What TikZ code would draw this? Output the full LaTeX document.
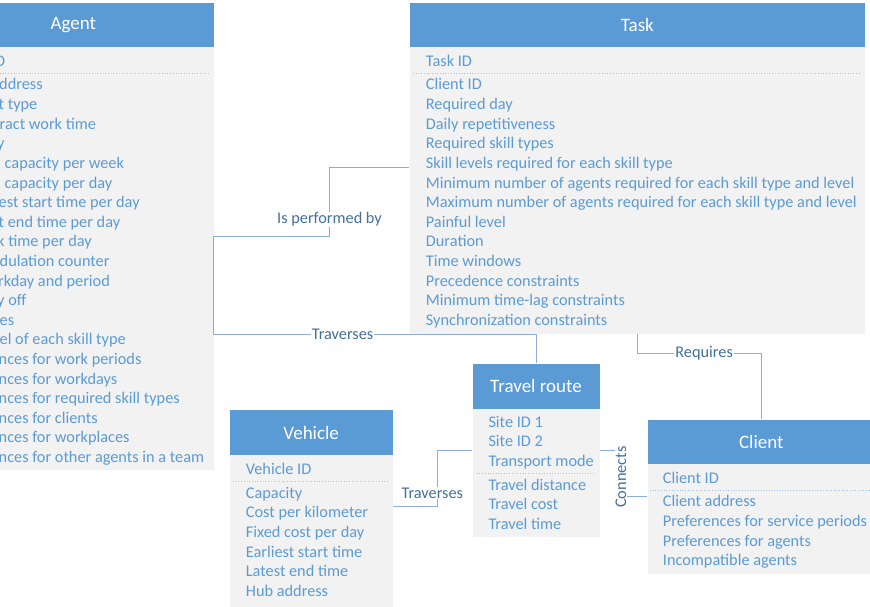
\documentclass[tikz,border=0pt]{standalone}
\usepackage{fontspec}
\setmainfont{Carlito}
\usetikzlibrary{positioning}

\definecolor{headblue}{HTML}{5B9BD5}
\definecolor{bodygrey}{HTML}{F2F2F2}
\definecolor{rowblue}{HTML}{5B9BD5}
\definecolor{linkblue}{HTML}{8FAADC}
\definecolor{relblue}{HTML}{44709D}

\tikzset{
  head/.style={fill=headblue, text=white, font=\fontsize{19}{22}\selectfont,
    anchor=north west, inner sep=0pt},
  body/.style={fill=bodygrey, anchor=north west, inner sep=0pt},
  row/.style={text=rowblue, font=\fontsize{16.3}{19.6}\selectfont, anchor=base west, inner sep=0pt},
  keyline/.style={headblue!60, dotted, line width=0.7pt},
  link/.style={linkblue, line width=0.9pt},
  rel/.style={fill=white, text=relblue, font=\fontsize{16.3}{19.6}\selectfont, inner sep=1pt},
}

\begin{document}
\begin{tikzpicture}[x=1pt, y=-1pt]
  \useasboundingbox (0,0) rectangle (870,607);
  \clip (0,0) rectangle (870,607);

  % Agent
  \node[head, minimum width=280.3, minimum height=44.3] (agenth) at (-67,2.5) {Agent};
  \node[body, minimum width=280.3, minimum height=423.2] (agentb) at (-67,46.8) {};
  \node[row] (a0) at (-5,66.5) {D};
  \draw[keyline] (0,73) -- (210,73);
  \node[row] (a1) at (-1,90) {ddress};
  \node[row] (a2) at (-1.5,109.6) {t type};
  \node[row] (a3) at (-0.5,129.2) {ract work time};
  \node[row] (a4) at (-3,148.8) {y};
  \node[row] (a5) at (4.5,168.4) {capacity per week};
  \node[row] (a6) at (4.5,188) {capacity per day};
  \node[row] (a7) at (-1.5,207.6) {est start time per day};
  \node[row] (a8) at (-1.5,227.2) {t end time per day};
  \node[row] (a9) at (-3,246.8) {k time per day};
  \node[row] (a10) at (-0.5,266.4) {dulation counter};
  \node[row] (a11) at (-2,286) {rkday and period};
  \node[row] (a12) at (-3,305.6) {y off};
  \node[row] (a13) at (-0.5,325.2) {es};
  \node[row] (a14) at (-0.5,344.8) {el of each skill type};
  \node[row] (a15) at (-1.5,364.4) {nces for work periods};
  \node[row] (a16) at (-1.5,384) {nces for workdays};
  \node[row] (a17) at (-1.5,403.6) {nces for required skill types};
  \node[row] (a18) at (-1.5,423.2) {nces for clients};
  \node[row] (a19) at (-1.5,442.8) {nces for workplaces};
  \node[row] (a20) at (-1.5,462.4) {nces for other agents in a team};

  % Task
  \node[head, minimum width=455.7, minimum height=44.3] (taskh) at (409.3,2.5) {Task};
  \node[body, minimum width=455.7, minimum height=286.5] (taskb) at (409.3,46.8) {};
  \node[row] (t0) at (425.7,66.5) {Task ID};
  \draw[keyline] (413,73) -- (861,73);
  \node[row] (t1) at (425.7,90) {Client ID};
  \node[row] (t2) at (425.7,109.6) {Required day};
  \node[row] (t3) at (425.7,129.2) {Daily repetitiveness};
  \node[row] (t4) at (425.7,148.8) {Required skill types};
  \node[row] (t5) at (425.7,168.4) {Skill levels required for each skill type};
  \node[row] (t6) at (425.7,188) {Minimum number of agents required for each skill type and level};
  \node[row] (t7) at (425.7,207.6) {Maximum number of agents required for each skill type and level};
  \node[row] (t8) at (425.7,227.2) {Painful level};
  \node[row] (t9) at (425.7,246.8) {Duration};
  \node[row] (t10) at (425.7,266.4) {Time windows};
  \node[row] (t11) at (425.7,286) {Precedence constraints};
  \node[row] (t12) at (425.7,305.6) {Minimum time-lag constraints};
  \node[row] (t13) at (425.7,325.2) {Synchronization constraints};

  % Travel route
  \node[head, minimum width=127, minimum height=45] (routeh) at (472.3,363.3) {Travel route};
  \node[body, minimum width=127, minimum height=128.4] (routeb) at (472.3,408.3) {};
  \node[row] (r1) at (488.3,427.3) {Site ID 1};
  \node[row] (r2) at (488.3,446.9) {Site ID 2};
  \node[row] (r3) at (488.3,466.5) {Transport mode};
  \draw[keyline] (476.7,473.3) -- (595,473.3);
  \node[row] (r4) at (488.3,490.3) {Travel distance};
  \node[row] (r5) at (488.3,509.9) {Travel cost};
  \node[row] (r6) at (488.3,529.5) {Travel time};

  % Vehicle
  \node[head, minimum width=163.4, minimum height=45] (vehh) at (229.3,410) {Vehicle};
  \node[body, minimum width=163.4, minimum height=155] (vehb) at (229.3,455) {};
  \node[row] (v0) at (245.7,474) {Vehicle ID};
  \draw[keyline] (233,481.7) -- (388,481.7);
  \node[row] (v1) at (245.7,498.3) {Capacity};
  \node[row] (v2) at (245.7,517.9) {Cost per kilometer};
  \node[row] (v3) at (245.7,537.5) {Fixed cost per day};
  \node[row] (v4) at (245.7,557.1) {Earliest start time};
  \node[row] (v5) at (245.7,576.7) {Latest end time};
  \node[row] (v6) at (245.7,596.3) {Hub address};

  % Client
  \node[head, minimum width=227.7, minimum height=44.7] (clienth) at (647.3,419.3) {Client};
  \node[body, minimum width=227.7, minimum height=109.3] (clientb) at (647.3,464) {};
  \node[row] (c0) at (662.7,483.3) {Client ID};
  \draw[keyline] (650,490.7) -- (870,490.7);
  \node[row] (c1) at (662.7,506.9) {Client address};
  \node[row] (c2) at (662.7,526.5) {Preferences for service periods};
  \node[row] (c3) at (662.7,546.1) {Preferences for agents};
  \node[row] (c4) at (662.7,565.7) {Incompatible agents};

  % relations
  \draw[link] (taskb.west |- 0,167.3) -| (329.5,236) node[rel, pos=0.88] (perf) {Is performed by}
    -- (agentb.east |- 0,236);
  \draw[link] (agentb.east |- 0,236) -- (agentb.east |- 0,334.3)
    -| node[rel, pos=0.2] (trav1) {Traverses} (routeh.north);
  \draw[link] (taskb.south -| 637,0) |- (clienth.north |- 0,353.3) node[rel, pos=0.77] (req) {Requires}
    -- (clienth.north);
  \draw[link] (vehb.east |- 0,506.7) -| (437.3,450) node[rel, pos=0.62, xshift=-5] (trav2) {Traverses}
    -- (routeb.west |- 0,450);
  \draw[link] (routeb.east |- 0,450) -| (621,496.7) node[rel, rotate=90, pos=0.79] (conn) {Connects}
    -- (clientb.west |- 0,496.7);
\end{tikzpicture}
\end{document}
